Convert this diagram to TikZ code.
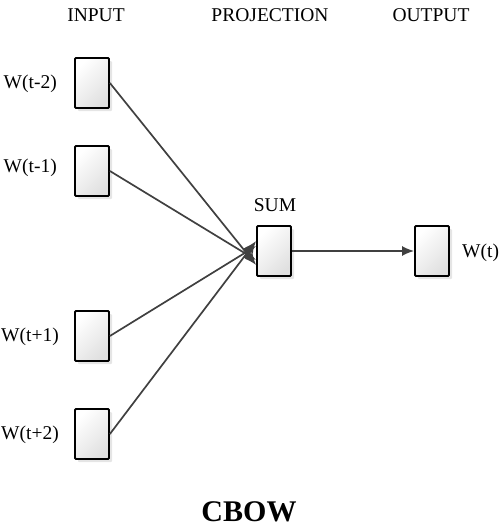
\documentclass[tikz,border=0pt]{standalone}
\usepackage{fontspec}
\setmainfont{Liberation Serif}
\usetikzlibrary{arrows.meta,shadows}

\tikzset{
  unit/.style={draw=black,line width=1.8pt,rounded corners=1pt,minimum width=34pt,minimum height=50pt,
    left color=white,right color=black!12,shading angle=45,
    drop shadow={opacity=0.25,shadow xshift=3pt,shadow yshift=-3pt,fill=black!40}},
  conn/.style={draw=black!75,line width=1.7pt,-{Latex[length=12pt,width=10pt]}},
  lbl/.style={font=\fontsize{19.5}{22}\selectfont,inner sep=0pt}
}

\begin{document}
\begin{tikzpicture}[x=1pt,y=-1pt]

\useasboundingbox (0,0) rectangle (500,531);

\node[lbl] (hin) at (96,15) {INPUT};
\node[lbl] (hproj) at (270,15) {PROJECTION};
\node[lbl] (hout) at (431,15) {OUTPUT};

\node[unit] (wm2) at (92,83) {};
\node[unit] (wm1) at (92,171) {};
\node[unit] (wp1) at (92,336) {};
\node[unit] (wp2) at (92,434) {};
\node[unit] (sum) at (274,251) {};
\node[unit] (wt) at (432,251) {};

\node[lbl,anchor=east] at (57,84) {W(t-2)};
\node[lbl,anchor=east] at (57,168) {W(t-1)};
\node[lbl,anchor=east] at (59,337) {W(t+1)};
\node[lbl,anchor=east] at (59,435) {W(t+2)};
\node[lbl] at (275,205) {SUM};
\node[lbl,anchor=west] at (462,253) {W(t)};

\node[font=\bfseries\fontsize{30}{33}\selectfont,inner sep=0pt] (title) at (249,512) {CBOW};

\draw[conn] (wm2.east) -- ([yshift=-14pt]sum.west);
\draw[conn] (wm1.east) -- ([yshift=-9pt]sum.west);
\draw[conn] (wp1.east) -- ([yshift=5pt]sum.west);
\draw[conn] (wp2.east) -- ([yshift=10pt]sum.west);
\draw[conn] (sum.east) -- (wt.west);

\end{tikzpicture}
\end{document}
